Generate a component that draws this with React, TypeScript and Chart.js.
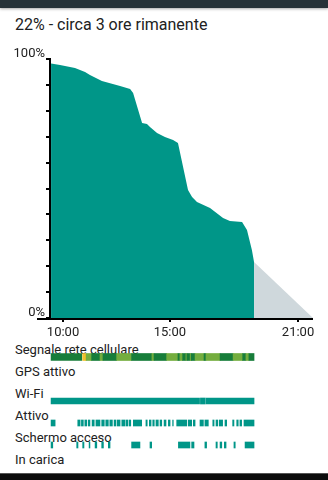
import React, { useEffect, useRef } from 'react';
import { Chart, registerables } from 'chart.js';

Chart.register(...registerables);

const titleText = '22% - circa 3 ore rimanente';

// battery level history (hours of day, percent)
const batteryTimes = [9.44, 9.86, 10.56, 11.03, 11.26, 11.82, 12.67, 13.14, 13.28, 13.70, 13.93, 14.07, 14.40, 14.77, 15.15, 15.38, 15.85, 16.04, 16.27, 16.88, 17.49, 17.81, 18.38, 18.61, 18.84, 18.94];
const batteryLevels = [98.3, 97.7, 96.5, 95.0, 93.8, 91.5, 89.6, 88.4, 86.9, 75.3, 74.9, 73.7, 71.4, 69.9, 68.7, 67.6, 49.4, 46.7, 44.8, 42.5, 38.6, 37.5, 37.1, 34.0, 26.3, 21.6];

// predicted discharge
const projectionTimes = [18.94, 21.7];
const projectionLevels = [21.6, 0];

const xMin = 9.39;
const xMax = 21.7;
const xTickValues = [10, 15, 21];
const yTickLabelValues = [0, 100];

const statusRows = ['Segnale rete cellulare', 'GPS attivo', 'Wi-Fi', 'Attivo', 'Schermo acceso', 'In carica'];

const signalSegments = [[9.44, 10.88], [10.92, 11.08], [11.08, 11.34], [11.34, 11.73], [11.73, 11.87], [11.87, 12.51], [12.51, 13.21], [13.21, 14.16], [14.16, 14.26], [14.26, 14.85], [14.85, 15.38], [15.38, 15.47], [15.47, 15.6], [15.6, 15.75], [15.75, 15.8], [15.8, 15.95], [15.95, 16.0], [16.0, 16.18], [16.18, 16.6], [16.6, 16.69], [16.69, 17.35], [17.35, 17.96], [17.96, 18.41], [18.41, 18.56], [18.56, 18.7], [18.7, 18.94]];
const signalLevels = ['great', 'poor', 'good', 'great', 'good', 'great', 'good', 'great', 'good', 'great', 'good', 'great', 'good', 'great', 'good', 'great', 'good', 'great', 'good', 'great', 'good', 'great', 'good', 'great', 'good', 'great'];

const wifiSegments = [[9.44, 16.39], [16.43, 16.66], [16.7, 18.94]];

const activeSegments = [[9.44, 9.63], [10.69, 10.8], [10.86, 10.95], [11.02, 11.11], [11.18, 11.26], [11.36, 11.46], [11.54, 11.73], [11.81, 11.93], [12.0, 12.12], [12.19, 12.31], [12.39, 12.48], [12.54, 12.67], [12.75, 12.9], [12.95, 13.04], [13.1, 13.17], [13.29, 13.68], [13.88, 13.94], [14.04, 14.12], [14.2, 14.27], [14.35, 14.46], [14.54, 14.62], [14.73, 14.82], [14.93, 15.01], [15.13, 15.16], [15.32, 15.79], [15.86, 16.02], [16.1, 16.18], [16.41, 16.57], [16.64, 16.8], [17.01, 17.07], [17.16, 17.24], [17.31, 17.47], [17.58, 17.66], [17.94, 18.0], [18.13, 18.2], [18.28, 18.36], [18.47, 18.94]];

const screenSegments = [[9.44, 9.52], [10.64, 10.7], [10.92, 10.98], [11.22, 11.26], [11.5, 11.58], [11.81, 11.89], [12.12, 12.2], [13.21, 13.6], [14.07, 14.15], [15.4, 15.94], [16.02, 16.13], [16.64, 16.72], [17.16, 17.22], [17.35, 17.43], [17.55, 17.63], [18.0, 18.06], [18.52, 18.94]];

const TEAL = '#009688';
const signalColors: Record<string, string> = { great: '#177d3a', good: '#74ad3e', poor: '#f4c02a' };

const fmtHour = (v: number) => {
  const h = Math.floor(v);
  const m = Math.round((v - h) * 60);
  return `${h}:${String(m).padStart(2, '0')}`;
};

export default function App() {
  const mainRef = useRef<HTMLCanvasElement>(null);
  const barRef = useRef<HTMLCanvasElement>(null);

  useEffect(() => {
    const axisLine = {
      id: 'axisLine',
      afterDraw(chart: any) {
        const { ctx, chartArea } = chart;
        ctx.save();
        ctx.strokeStyle = '#000';
        ctx.lineWidth = 2;
        ctx.beginPath();
        ctx.moveTo(37, chartArea.bottom + 1);
        ctx.lineTo(chartArea.right, chartArea.bottom + 1);
        ctx.stroke();
        ctx.restore();
      },
    };
    const font = { family: 'Roboto', size: 13 };
    const main = new Chart(mainRef.current as HTMLCanvasElement, {
      type: 'line',
      data: {
        datasets: [
          {
            data: batteryTimes.map((t, i) => ({ x: t, y: batteryLevels[i] })),
            fill: 'start',
            backgroundColor: TEAL,
            borderWidth: 0,
            pointRadius: 0,
            tension: 0,
          },
          {
            data: projectionTimes.map((t, i) => ({ x: t, y: projectionLevels[i] })),
            fill: 'start',
            backgroundColor: '#cfd8dc',
            borderWidth: 0,
            pointRadius: 0,
            tension: 0,
          },
        ],
      },
      options: {
        animation: false,
        responsive: false,
        events: [],
        layout: { padding: { top: 19, right: 15, left: 0, bottom: 0 } },
        plugins: { legend: { display: false }, tooltip: { enabled: false } },
        scales: {
          x: {
            type: 'linear',
            min: xMin,
            max: xMax,
            afterBuildTicks: (s: any) => {
              s.ticks = xTickValues.map((v) => ({ value: v }));
            },
            afterFit: (s: any) => {
              s.height = 22;
            },
            ticks: {
              callback: (v: any) => fmtHour(Number(v)),
              font,
              color: '#212121',
              padding: 3,
              maxRotation: 0,
              autoSkip: false,
            },
            grid: { drawOnChartArea: false, tickLength: 4, color: '#000', lineWidth: 2 },
            border: { display: false },
          },
          y: {
            min: 0,
            max: 100,
            afterFit: (s: any) => {
              s.width = 50;
            },
            ticks: {
              stepSize: 10,
              callback: (v: any) => (yTickLabelValues.includes(Number(v)) ? `${v}%` : ''),
              font,
              color: '#212121',
              padding: 1,
              labelOffset: -5,
              autoSkip: false,
            },
            grid: { drawOnChartArea: false, tickLength: 4, color: '#000', lineWidth: 2 },
            border: { display: true, color: '#000', width: 2 },
          },
        },
      },
      plugins: [axisLine],
    } as any);

    const rowData = (segs: number[][], row: string) => segs.map(([s, e]) => ({ x: [s, e], y: row }));
    const bars = new Chart(barRef.current as HTMLCanvasElement, {
      type: 'bar',
      data: {
        labels: statusRows,
        datasets: [
          { data: rowData(signalSegments, statusRows[0]), backgroundColor: signalLevels.map((l) => signalColors[l]), barThickness: 7 },
          { data: rowData(wifiSegments, statusRows[2]), backgroundColor: TEAL, barThickness: 6 },
          { data: rowData(activeSegments, statusRows[3]), backgroundColor: TEAL, barThickness: 6 },
          { data: rowData(screenSegments, statusRows[4]), backgroundColor: TEAL, barThickness: 6 },
        ],
      },
      options: {
        indexAxis: 'y',
        animation: false,
        responsive: false,
        events: [],
        layout: { padding: { left: 50, right: 15, top: 0, bottom: 0 } },
        plugins: { legend: { display: false }, tooltip: { enabled: false } },
        datasets: { bar: { grouped: false, borderWidth: 0, borderSkipped: false } },
        scales: {
          x: { type: 'linear', min: xMin, max: xMax, display: false },
          y: { type: 'category', display: false, offset: true },
        },
      },
    } as any);

    return () => {
      main.destroy();
      bars.destroy();
    };
  }, []);

  const labelTops = [342, 364, 386, 408, 430, 452];

  return (
    <div style={{ position: 'fixed', left: 0, top: 0, width: 328, height: 480, background: '#fff', overflow: 'hidden', fontFamily: 'Roboto', color: '#212121' }}>
      <div style={{ position: 'absolute', left: 0, top: 0, width: 328, height: 8, background: '#263238', boxShadow: '0 1px 3px rgba(0,0,0,0.35)' }} />
      <div style={{ position: 'absolute', left: 15, top: 15, fontSize: 16, lineHeight: '20px', whiteSpace: 'nowrap' }}>{titleText}</div>
      <canvas ref={mainRef} width={328} height={300} style={{ position: 'absolute', left: 0, top: 40, width: 328, height: 300 }} />
      {statusRows.map((r, i) => (
        <div key={r} style={{ position: 'absolute', left: 15, top: labelTops[i], fontSize: 13, lineHeight: '15px', whiteSpace: 'nowrap' }}>{r}</div>
      ))}
      <canvas ref={barRef} width={328} height={132} style={{ position: 'absolute', left: 0, top: 346, width: 328, height: 132 }} />
      <div style={{ position: 'absolute', left: 0, top: 473, width: 328, height: 7, background: '#0c0c0c', borderTop: '1px solid #555' }} />
    </div>
  );
}
